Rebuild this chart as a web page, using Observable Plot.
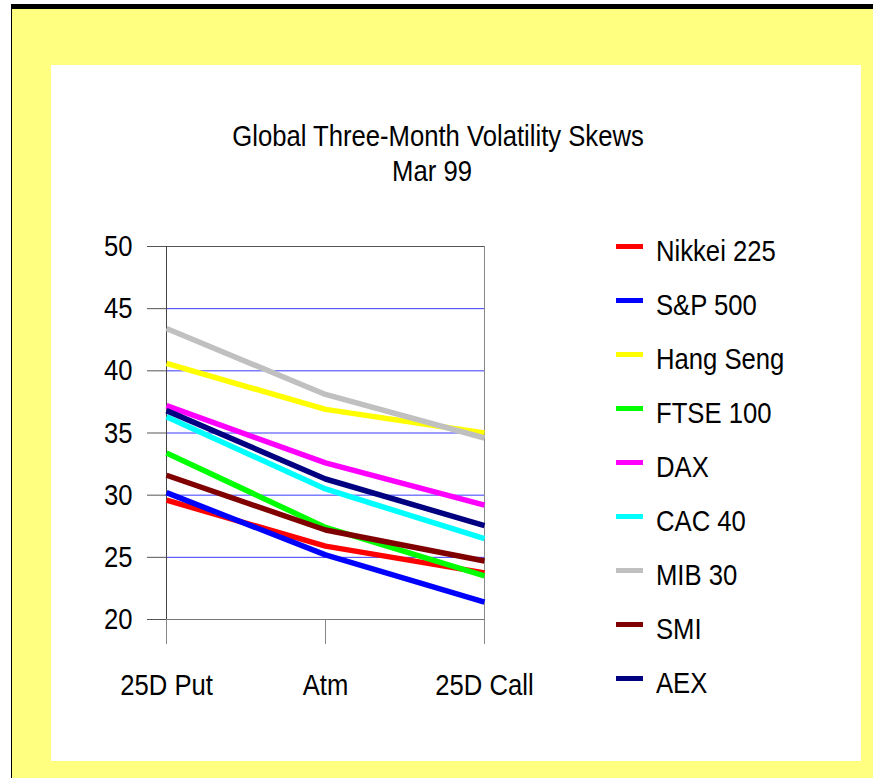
<!DOCTYPE html>
<html><head><meta charset="utf-8">
<script src="https://cdn.jsdelivr.net/npm/d3@7"></script>
<script src="https://cdn.jsdelivr.net/npm/@observablehq/plot@0.6"></script>
<style>
body{margin:0;background:#fff;}
#wrap{position:relative;width:873px;height:778px;overflow:hidden;font-family:"Liberation Sans",Arial,sans-serif;}
#topbar{position:absolute;left:11px;top:4px;width:862px;height:5px;background:#000;}
#leftbar{position:absolute;left:11px;top:4px;width:1px;height:774px;background:#000;}
#yellow{position:absolute;left:12px;top:9px;right:0;bottom:0;background:#FFFF80;}
#panel{position:absolute;left:51px;top:65px;width:810px;height:696px;background:#fff;}
#chart{position:absolute;left:0;top:0;}
.t{position:absolute;left:0;width:876px;text-align:center;color:#000;white-space:nowrap;transform:scaleX(0.855);transform-origin:438px 0;}
#title{top:118px;font-size:30px;line-height:36px;}
#sub{top:153px;font-size:30px;line-height:36px;left:-6px;}
.lg{position:absolute;left:0;top:0;}
.sw{position:absolute;width:27px;height:5px;}
.lt{position:absolute;font-size:30px;line-height:36px;white-space:nowrap;color:#000;transform:scaleX(0.855);transform-origin:0 0;}
</style></head>
<body>
<div id="wrap">
  <div id="yellow"></div>
  <div id="topbar"></div>
  <div id="leftbar"></div>
  <div id="panel"></div>
  <div id="chart"></div>
  <div class="t" id="title">Global Three-Month Volatility Skews</div>
  <div class="t" id="sub">Mar 99</div>
  <div class="lg" id="legend"></div>
</div>
<script>
const categories = ["25D Put", "Atm", "25D Call"];
const seriesNames = ["Nikkei 225", "S&P 500", "Hang Seng", "FTSE 100", "DAX", "CAC 40", "MIB 30", "SMI", "AEX"];
const seriesColors = ["#FF0000", "#0000FF", "#FFFF00", "#00FF00", "#FF00FF", "#00FFFF", "#C0C0C0", "#800000", "#000080"];
const nikkei225 = [29.6, 25.9, 23.75];
const sp500     = [30.2, 25.2, 21.4];
const hangSeng  = [40.6, 36.9, 35.0];
const ftse100   = [33.4, 27.4, 23.5];
const dax       = [37.2, 32.6, 29.2];
const cac40     = [36.3, 30.5, 26.5];
const mib30     = [43.4, 38.1, 34.6];
const smi       = [31.6, 27.2, 24.7];
const aex       = [36.8, 31.3, 27.55];
const yTicks = [20, 25, 30, 35, 40, 45, 50];
const gridTicks = [25, 30, 35, 40, 45];

const seriesValues = [nikkei225, sp500, hangSeng, ftse100, dax, cac40, mib30, smi, aex];
const rows = [];
seriesNames.forEach((s, i) => categories.forEach((c, j) => rows.push({series: s, cat: c, v: seriesValues[i][j]})));

const chart = Plot.plot({
  width: 873, height: 778,
  marginLeft: 166, marginRight: 389, marginTop: 246, marginBottom: 159,
  style: {background: "transparent", fontFamily: '"Liberation Sans",Arial,sans-serif', fontSize: "30px", color: "#000", overflow: "visible"},
  x: {type: "point", domain: categories, padding: 0, axis: null},
  y: {domain: [20, 50], axis: null},
  color: {domain: seriesNames, range: seriesColors},
  marks: [
    Plot.ruleY(gridTicks, {stroke: "#3a3aff", strokeWidth: 1}),
    Plot.ruleY([yTicks[yTicks.length - 1]], {stroke: "#555", strokeWidth: 1}),
    Plot.ruleY([yTicks[0]], {stroke: "#777", strokeWidth: 1}),
    Plot.ruleX([categories[categories.length - 1]], {y1: yTicks[0], y2: yTicks[yTicks.length - 1], stroke: "#888"}),
    Plot.ruleX([categories[0]], {y1: yTicks[0], y2: yTicks[yTicks.length - 1], stroke: "#444"}),
    Plot.axisY({ticks: yTicks, tickSize: 19, tickPadding: 15, stroke: "#555", fill: "#000", fontSize: 30, label: null, tickFormat: d => String(d)}),
    Plot.axisX({tickSize: 25, tickPadding: 29, stroke: "#888", fill: "#000", fontSize: 30, label: null}),
    Plot.line(rows, {x: "cat", y: "v", z: "series", stroke: "series", strokeWidth: 5.5, strokeLinejoin: "round", strokeLinecap: "butt"})
  ]
});
document.getElementById("chart").appendChild(chart);

// condense axis tick labels horizontally around their anchor (reference uses a narrow face)
const NS = "http://www.w3.org/2000/svg";
chart.querySelectorAll("text").forEach(t => {
  const r = t.getBoundingClientRect();
  if (!r.width) return;
  const anchor = getComputedStyle(t).textAnchor || t.getAttribute("text-anchor") || "start";
  const ax = anchor === "end" ? r.right : anchor === "middle" ? (r.left + r.right) / 2 : r.left;
  const ay = (r.top + r.bottom) / 2;
  const parent = t.parentNode;
  const m = parent.getScreenCTM();
  if (!m) return;
  const p = new DOMPoint(ax, ay).matrixTransform(m.inverse());
  const g = document.createElementNS(NS, "g");
  g.setAttribute("transform", `translate(${p.x},${p.y}) scale(0.855,1) translate(${-p.x},${-p.y})`);
  parent.insertBefore(g, t);
  g.appendChild(t);
});

const lg = document.getElementById("legend");
seriesNames.forEach((s, i) => {
  const cy = 246 + i * 54;
  const sw = document.createElement("div");
  sw.className = "sw";
  sw.style.left = "616px"; sw.style.top = (cy - 2.5) + "px"; sw.style.background = seriesColors[i];
  lg.appendChild(sw);
  const t = document.createElement("div");
  t.className = "lt";
  t.style.left = "656px"; t.style.top = (cy - 13) + "px";
  t.textContent = s;
  lg.appendChild(t);
});
</script>
</body></html>
